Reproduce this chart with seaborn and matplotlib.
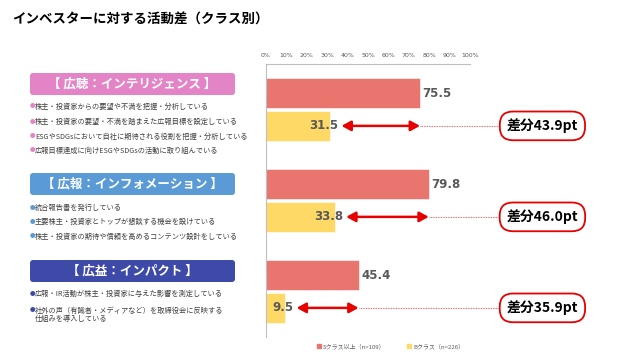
import numpy as np
import pandas as pd
import matplotlib
matplotlib.use("Agg")
import matplotlib.pyplot as plt
import seaborn as sns
from matplotlib.patches import FancyBboxPatch, Patch

# ---------------- data ----------------
title = "インベスターに対する活動差（クラス別）"
groups = ["広聴：インテリジェンス", "広報：インフォメーション", "広益：インパクト"]
classes = ["Sクラス以上（n=109）", "Bクラス（n=226）"]
s_values = [75.5, 79.8, 45.4]
b_values = [31.5, 33.8, 9.5]
diff_labels = ["差分43.9pt", "差分46.0pt", "差分35.9pt"]
x_ticks = [0, 10, 20, 30, 40, 50, 60, 70, 80, 90, 100]
x_tick_labels = [f"{t}%" for t in x_ticks]
bullets = [
    ["株主・投資家からの要望や不満を把握・分析している",
     "株主・投資家の要望・不満を踏まえた広報目標を設定している",
     "ESGやSDGsにおいて自社に期待される役割を把握・分析している",
     "広報目標達成に向けESGやSDGsの活動に取り組んでいる"],
    ["統合報告書を発行している",
     "主要株主・投資家とトップが懇談する機会を設けている",
     "株主・投資家の期待や信頼を高めるコンテンツ設計をしている"],
    ["広報・IR活動が株主・投資家に与えた影響を測定している",
     "社外の声（有識者・メディアなど）を取締役会に反映する\n仕組みを導入している"],
]

# ---------------- style ----------------
header_colors = ["#E384C6", "#5B9BD5", "#3E4AA8"]
bar_colors = ["#E9756F", "#FFD966"]
red = "#E60000"
gray = "#595959"

sns.set_theme(style="white")
plt.rcParams["font.family"] = ["Noto Sans CJK JP", "DejaVu Sans"]

df = pd.DataFrame({
    "group": groups * 2,
    "cls": [classes[0]] * 3 + [classes[1]] * 3,
    "value": s_values + b_values,
})

fig = plt.figure(figsize=(6.4, 3.6), dpi=100)
fig.patch.set_facecolor("white")

# overlay axes in pixel coordinates for left-panel decorations
bg = fig.add_axes([0, 0, 1, 1], zorder=0)
bg.set_xlim(0, 640)
bg.set_ylim(360, 0)
bg.axis("off")
bg.patch.set_alpha(0)

ax = fig.add_axes([266 / 640, 1 - 337 / 360, 204 / 640, 273 / 360], zorder=1)
ax.patch.set_alpha(0)

sns.barplot(data=df, y="group", x="value", hue="cls", orient="h",
            hue_order=classes, order=groups, palette=bar_colors,
            saturation=1, width=0.72, gap=0.1, legend=False, ax=ax,
            edgecolor="white", linewidth=0.4)

ax.set_xlim(0, 100)
ax.set_ylim(2.5, -0.5)
ax.set_xlabel("")
ax.set_ylabel("")
ax.set_yticks([])
ax.xaxis.tick_top()
ax.set_xticks(x_ticks)
ax.set_xticklabels(x_tick_labels, fontsize=4.5, color=gray, family="DejaVu Sans")
ax.tick_params(axis="x", length=0, pad=4)
for sp in ["right", "bottom"]:
    ax.spines[sp].set_visible(False)
for sp in ["top", "left"]:
    ax.spines[sp].set_color("#BFBFBF")
    ax.spines[sp].set_linewidth(0.8)

off = 0.18
for i, (s, b) in enumerate(zip(s_values, b_values)):
    ax.text(s + 1.2, i - off, f"{s:.1f}", ha="left", va="center",
            fontsize=8.5, fontweight="bold", color=gray, family="DejaVu Sans")
    ax.text(b + 4.0, i + off, f"{b:.1f}", ha="right", va="center",
            fontsize=8.5, fontweight="bold", color=gray, family="DejaVu Sans")
    ax.plot([s, 113.5], [i + off, i + off], color=red, lw=0.6,
            ls=(0, (1, 1)), clip_on=False, alpha=0.8)
    ax.annotate("", xy=(s, i + off), xytext=(b + 5.5, i + off),
                arrowprops=dict(arrowstyle="<|-|>,head_length=0.55,head_width=0.3",
                                color=red, lw=1.8, shrinkA=0, shrinkB=0,
                                mutation_scale=10),
                annotation_clip=False)
    ax.text(135.5, i + off, diff_labels[i], ha="center", va="center",
            fontsize=10, fontweight="bold", color="black", clip_on=False,
            bbox=dict(boxstyle="round,pad=0.5,rounding_size=0.95",
                      fc="white", ec=red, lw=1.3))

handles = [Patch(color=c) for c in bar_colors]
ax.legend(handles, classes, ncol=2, loc="upper center",
          bbox_to_anchor=(0.61, -0.005), frameon=False, fontsize=4.3,
          handlelength=0.7, handleheight=0.7, columnspacing=3.5,
          handletextpad=0.4, labelcolor=gray)

# title
bg.text(12, 20, title, ha="left", va="center", fontsize=9.7,
        fontweight="bold", color="black")

# left panel
header_tops = [73, 173, 260]
bullet_ys = [[107, 122, 137, 151], [208, 222, 237], [294, 311]]
for g, name in enumerate(groups):
    top = header_tops[g]
    box = FancyBboxPatch((30, top), 205, 22,
                         boxstyle="round,pad=0,rounding_size=3",
                         fc=header_colors[g], ec="none")
    bg.add_patch(box)
    bg.text(132.5, top + 11, f"【 {name} 】", ha="center", va="center",
            fontsize=9, fontweight="bold", color="white")
    for line, y in zip(bullets[g], bullet_ys[g]):
        bg.text(30, y, "●", ha="left", va="center", fontsize=4,
                color=header_colors[g])
        parts = line.split("\n")
        for k, p in enumerate(parts):
            bg.text(35, y + k * 8.5, p, ha="left", va="center",
                    fontsize=5.2, color="#404040")

fig.savefig("out.png", dpi=100, facecolor="white")
